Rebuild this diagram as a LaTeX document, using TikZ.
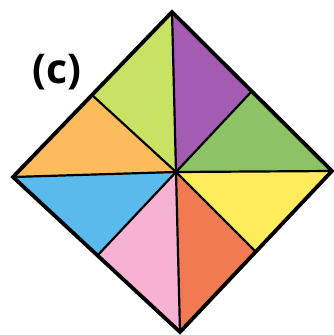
\documentclass[tikz,border=0pt]{standalone}
\usepackage{fontspec}
\setmainfont{Open Sans}
\definecolor{cLime}{HTML}{C8E264}
\definecolor{cPurple}{HTML}{A45BB2}
\definecolor{cGreen}{HTML}{8DC265}
\definecolor{cYellow}{HTML}{FFEC5C}
\definecolor{cRed}{HTML}{F27A52}
\definecolor{cPink}{HTML}{F6B2D2}
\definecolor{cBlue}{HTML}{5BBAEC}
\definecolor{cOrange}{HTML}{FDBC5C}
\tikzset{
  inner/.style={line width=2.2pt, line cap=round},
  outer/.style={line width=3.8pt, line join=miter},
  label/.style={font=\fontsize{41}{41}\selectfont\bfseries, inner sep=0pt}
}
\begin{document}
\begin{tikzpicture}[x=1pt,y=-1pt]
\useasboundingbox (0,0) rectangle (334,335);
\fill[white] (0,0) rectangle (334,335);
\coordinate (T) at (172,12);
\coordinate (R) at (332,171);
\coordinate (B) at (180,332);
\coordinate (L) at (13,177);
\coordinate (C) at (176,172);
\coordinate (UL) at (92,95);
\coordinate (UR) at (252,91);
\coordinate (LR) at (256,252);
\coordinate (LL) at (97,256);
\fill[cLime] (T) -- (C) -- (UL) -- cycle;
\fill[cPurple] (T) -- (UR) -- (C) -- cycle;
\fill[cGreen] (UR) -- (R) -- (C) -- cycle;
\fill[cYellow] (R) -- (LR) -- (C) -- cycle;
\fill[cRed] (LR) -- (B) -- (C) -- cycle;
\fill[cPink] (B) -- (LL) -- (C) -- cycle;
\fill[cBlue] (LL) -- (L) -- (C) -- cycle;
\fill[cOrange] (L) -- (UL) -- (C) -- cycle;
\draw[inner] (C) -- (T);
\draw[inner] (C) -- (R);
\draw[inner] (C) -- (B);
\draw[inner] (C) -- (L);
\draw[inner] (C) -- (UL);
\draw[inner] (C) -- (UR);
\draw[inner] (C) -- (LR);
\draw[inner] (C) -- (LL);
\draw[outer] (T) -- (R) -- (B) -- (L) -- cycle;
\node[label] (lab) at (57,72) {(c)};
\end{tikzpicture}
\end{document}
